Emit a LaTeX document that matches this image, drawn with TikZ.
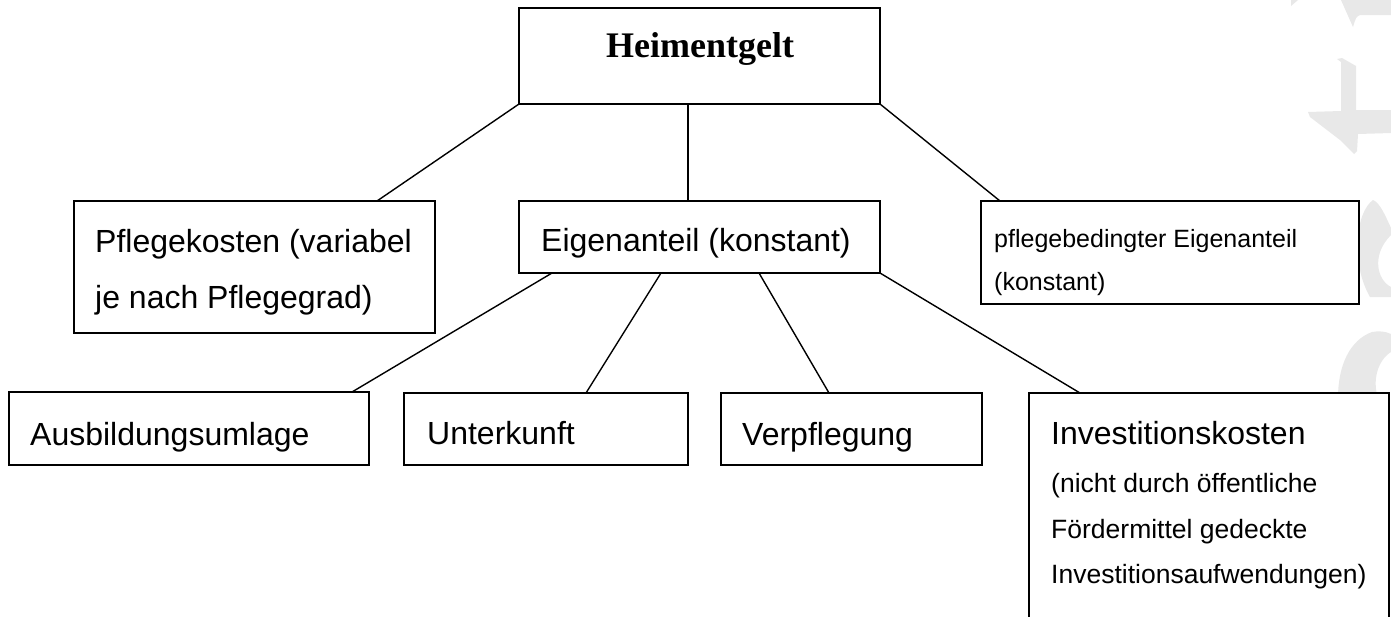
\documentclass[tikz,border=0pt]{standalone}
\usepackage{fontspec}
\setmainfont{Liberation Sans}
\newfontfamily\headfont{Liberation Serif}
\begin{document}
\begin{tikzpicture}[x=1pt,y=-1pt,
  box/.style={draw=black, line width=1.8pt, fill=white, rectangle, inner sep=0pt, outer sep=0pt},
  conn/.style={draw=black, line width=1.4pt},
  txt/.style={anchor=base west, inner sep=0pt, font=\fontsize{32}{38}\selectfont},
  smalltxt/.style={anchor=base west, inner sep=0pt, font=\fontsize{25}{30}\selectfont},
  tinytxt/.style={anchor=base west, inner sep=0pt, font=\fontsize{26.5}{32}\selectfont},
  wm/.style={fill=gray!18, draw=none}]
\useasboundingbox (0,0) rectangle (1391,616);
\clip (0,0) rectangle (1391,616);
\fill[white] (0,0) rectangle (1391,616);
% watermark remnants at the right edge
\fill[wm] (1341,0) -- (1391,0) -- (1391,15) -- (1360,15) .. controls (1356,17) .. (1353,27) -- cycle;
\fill[wm] (1291,0) -- (1298,0) -- (1291,6) -- cycle;
\fill[wm] (1337,59) -- (1342,58) -- (1356,66) -- (1356,110) -- (1391,110) -- (1391,133) -- (1358,134)
  -- (1357,151) -- (1354,154) -- (1340,140) -- (1310,117) -- (1308,112) -- (1341,111) -- (1341,62) -- cycle;
\fill[wm] (1373,200) .. controls (1356,212) and (1350,262) .. (1370,297) -- (1391,297) -- (1391,287)
  .. controls (1377,280) and (1371,255) .. (1391,235) -- (1391,228) .. controls (1385,215) and (1380,203) .. cycle;
\fill[wm] (1372,332) .. controls (1350,340) and (1338,365) .. (1338,398) -- (1378,398)
  .. controls (1372,380) and (1378,360) .. (1391,352) -- (1391,334) .. controls (1385,331) and (1378,331) .. cycle;
% boxes
\node[box, minimum width=361pt, minimum height=96pt]  (heim) at (699.5,56)  {};
\node[box, minimum width=361pt, minimum height=72pt]  (eig)  at (699.5,237) {};
\node[box, minimum width=361pt, minimum height=132pt] (pk)   at (254.5,267) {};
\node[box, minimum width=378pt, minimum height=103pt] (pb)   at (1170,252.5) {};
\node[box, minimum width=360pt, minimum height=73pt]  (aus)  at (189,428.5) {};
\node[box, minimum width=284pt, minimum height=72pt]  (unt)  at (546,429)   {};
\node[box, minimum width=261pt, minimum height=72pt]  (ver)  at (851.5,429) {};
\node[box, minimum width=360pt, minimum height=250pt] (inv)  at (1209,518)  {};
% connectors
\draw[conn] (heim.south west) -- ([xshift=303pt]pk.north west);
\draw[conn] ([xshift=-11.5pt]heim.south) -- ([xshift=-11.5pt]eig.north);
\draw[conn] (heim.south east) -- ([xshift=19pt]pb.north west);
\draw[conn] ([xshift=33pt]eig.south west) -- ([xshift=-17pt]aus.north east);
\draw[conn] ([xshift=142pt]eig.south west) -- ([xshift=182pt]unt.north west);
\draw[conn] ([xshift=240pt]eig.south west) -- ([xshift=108pt]ver.north west);
\draw[conn] (eig.south east) -- ([xshift=51pt]inv.north west);
% texts
\node[anchor=base, inner sep=0pt, font=\headfont\bfseries\fontsize{36}{40}\selectfont] (theim) at (700,57) {Heimentgelt};
\node[txt] (teig) at (541,251) {Eigenanteil (konstant)};
\node[txt] (tpk1) at (95,252) {Pflegekosten (variabel};
\node[txt] (tpk2) at (95,308) {je nach Pflegegrad)};
\node[smalltxt] (tpb1) at (994,247) {pflegebedingter Eigenanteil};
\node[smalltxt] (tpb2) at (994,290) {(konstant)};
\node[txt] (taus) at (30,445) {Ausbildungsumlage};
\node[txt] (tunt) at (427,444) {Unterkunft};
\node[txt] (tver) at (742,445) {Verpflegung};
\node[txt] (tinv1) at (1051,444) {Investitionskosten};
\node[tinytxt] (tinv2) at (1051,492) {(nicht durch öffentliche};
\node[tinytxt] (tinv3) at (1051,538) {Fördermittel gedeckte};
\node[tinytxt] (tinv4) at (1051,583) {Investitionsaufwendungen)};
\end{tikzpicture}
\end{document}
